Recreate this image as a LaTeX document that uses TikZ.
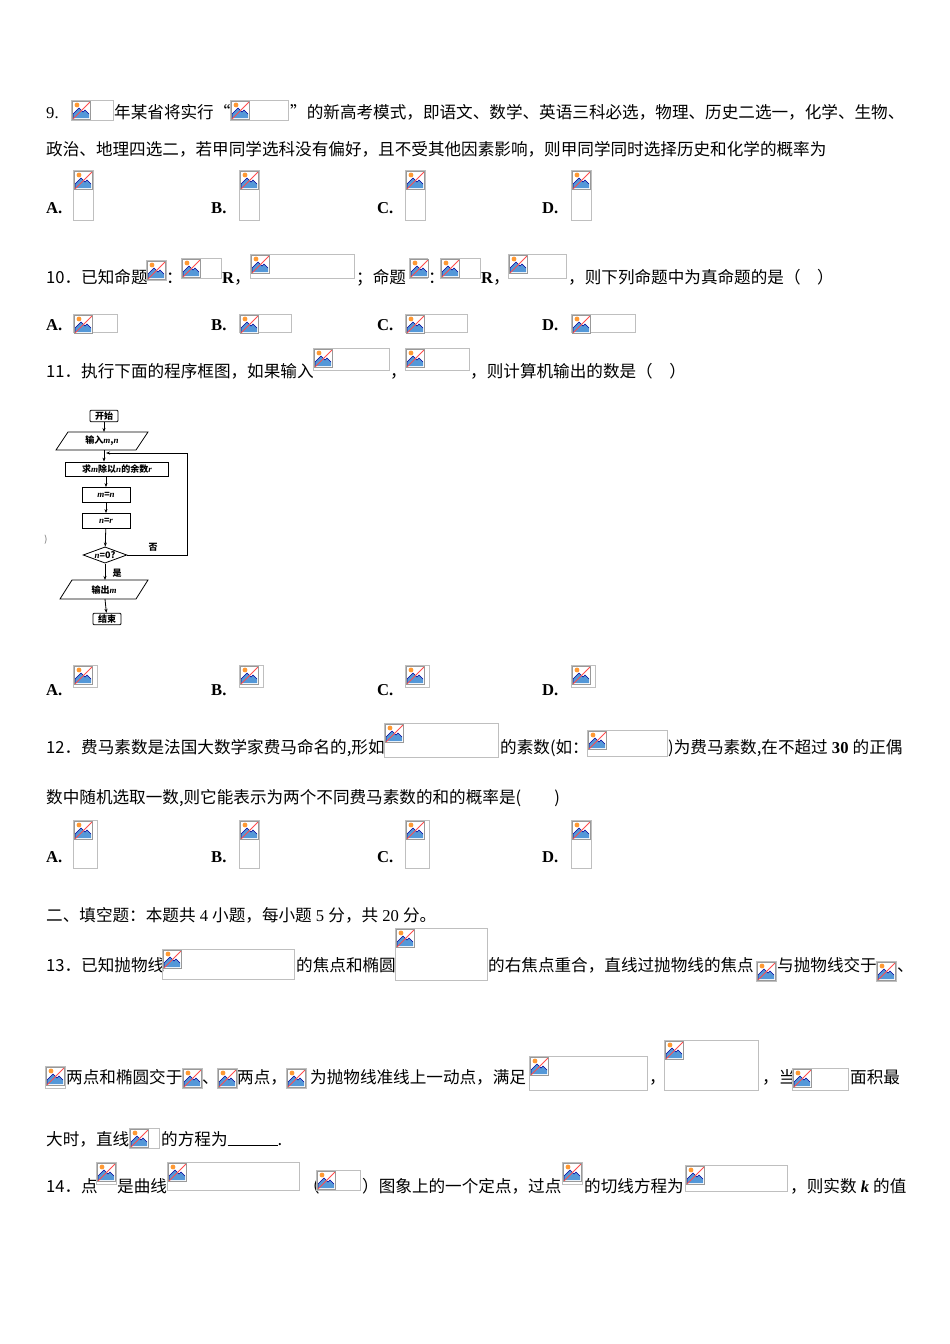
\documentclass[tikz,border=0pt]{standalone}
\usepackage{fontspec}
\setmainfont{Noto Sans CJK SC}
\newfontfamily\lat{Liberation Serif}
\usetikzlibrary{shapes.geometric,arrows.meta}
\newcommand\bimg[4]{%
 \begin{scope}[shift={(#1,#2)}]
  \draw[black!25,line width=0.8pt] (0,0) rectangle (#3,#4);
  \fill[white] (1,1) rectangle (19,19);
  \fill[cyan!60!blue!70] (2,18) -- (2,14) -- (8,8) -- (12,12) -- (14,10) -- (18,14) -- (18,18) -- cycle;
  \draw[blue!60!black,line width=0.6pt] (2,18) -- (2,14) -- (8,8) -- (12,12) -- (14,10) -- (18,14);
  \fill[orange!80] (6,5) circle (2.4);
  \draw[red!70,line width=1pt] (2,19) -- (19,2);
  \draw[black!40,line width=0.6pt] (1,1) rectangle (19,19);
 \end{scope}}
\newcommand\tx[3]{\node[anchor=base west,inner sep=0pt] at (#1,#2) {#3};}
\newcommand\opt[3]{\node[anchor=base west,inner sep=0pt] at (#1,#2) {\lat\bfseries #3};}
\newcommand\vi[1]{{\lat\itshape #1}}
\tikzset{fbox/.style={draw,line width=0.8pt,inner sep=1.5pt,font=\fontsize{9}{10}\selectfont\bfseries},
 flow/.style={-{Stealth[length=4pt]},line width=0.8pt}}
\begin{document}
\begin{tikzpicture}[x=1pt,y=-1pt,every node/.style={font=\fontsize{16.6}{18}\selectfont}]
\useasboundingbox (0,0) rectangle (950,1344);
\fill[white] (0,0) rectangle (950,1344);
% Q9
\tx{46}{118}{\lat 9.} \bimg{71}{100}{42}{20}
\tx{114}{118}{年某省将实行“} \bimg{230}{100}{58}{20}
\tx{290}{118}{”的新高考模式，即语文、数学、英语三科必选，物理、历史二选一，化学、生物、}
\tx{46}{155}{政治、地理四选二，若甲同学选科没有偏好，且不受其他因素影响，则甲同学同时选择历史和化学的概率为}
\opt{46}{213}{A.} \bimg{73}{170}{20}{50}
\opt{211}{213}{B.} \bimg{239}{170}{20}{50}
\opt{377}{213}{C.} \bimg{405}{170}{20}{50}
\opt{542}{213}{D.} \bimg{571}{170}{20}{50}
% Q10
\tx{46}{283}{10．已知命题} \bimg{146}{260}{20}{20}
\tx{166}{283}{：} \bimg{181}{258}{40}{20}
\tx{222}{283}{{\lat\bfseries R}，} \bimg{250}{254}{104}{24}
\tx{356}{283}{；命题} \bimg{409}{258}{18}{20}
\tx{428}{283}{：} \bimg{440}{258}{40}{20}
\tx{481}{283}{{\lat\bfseries R}，} \bimg{508}{254}{58}{24}
\tx{568}{283}{，则下列命题中为真命题的是（　）}
\opt{46}{330}{A.} \bimg{73}{314}{44}{18}
\opt{211}{330}{B.} \bimg{239}{314}{52}{18}
\opt{377}{330}{C.} \bimg{405}{314}{62}{18}
\opt{542}{330}{D.} \bimg{571}{314}{64}{18}
% Q11
\tx{46}{377}{11．执行下面的程序框图，如果输入} \bimg{313}{348}{76}{22}
\tx{390}{377}{，} \bimg{405}{348}{64}{22}
\tx{470}{377}{，则计算机输出的数是（　）}
% flowchart
\node[fbox,minimum width=28pt,minimum height=9pt,rounded corners=1pt] (start) at (104,416) {开始};
\draw[line width=0.8pt] (68,432) -- (148,432) -- (136,450) -- (56,450) -- cycle;
\node[font=\fontsize{9}{10}\selectfont\bfseries] (in) at (102,441) {输入\vi{m},\vi{n}};
\node[fbox,minimum width=103pt,minimum height=14pt] (rem) at (117,469) {求\vi{m}除以\vi{n}的余数\vi{r}};
\node[fbox,minimum width=48pt,minimum height=15pt] (mn) at (106,495) {\vi{m}=\vi{n}};
\node[fbox,minimum width=48pt,minimum height=15pt] (nr) at (106,521) {\vi{n}=\vi{r}};
\node[draw,diamond,aspect=2.7,line width=0.8pt,inner sep=0.5pt,font=\fontsize{9}{10}\selectfont\bfseries] (dec) at (105,555) {\vi{n}=0?};
\draw[line width=0.8pt] (72,580) -- (148,580) -- (136,599) -- (60,599) -- cycle;
\node[font=\fontsize{9}{10}\selectfont\bfseries] (out) at (104,590) {输出\vi{m}};
\node[fbox,minimum width=28pt,minimum height=9pt,rounded corners=1pt] (end) at (107,619) {结束};
\coordinate (inT) at (104,432);
\coordinate (inB) at (104,450);
\coordinate (outt) at (105,580);
\coordinate (outb) at (105,599);
\coordinate (c1) at (187,555);
\coordinate (c2) at (187,453);
\coordinate (c3) at (106,453);
\draw[flow] (start) -- (inT);
\draw[flow] (inB) -- (rem.north -| inB);
\draw[flow] (rem.south -| mn) -- (mn);
\draw[flow] (mn) -- (nr);
\draw[flow] (nr) -- (dec);
\draw[flow] (dec) -- (outt);
\draw[flow] (outb) -- (end);
\draw[flow] (dec.east) -- (c1) -- (c2) -- (c3);
\node[font=\fontsize{9}{10}\selectfont\bfseries] (no) at (153,547) {否};
\node[font=\fontsize{9}{10}\selectfont\bfseries] (yes) at (117,573) {是};
\node[font=\fontsize{9}{10}\selectfont,text=black!60] (par) at (46,540) {)};
\opt{46}{695}{A.} \bimg{73}{665}{24}{22}
\opt{211}{695}{B.} \bimg{239}{665}{24}{22}
\opt{377}{695}{C.} \bimg{405}{665}{24}{22}
\opt{542}{695}{D.} \bimg{571}{665}{24}{22}
% Q12
\tx{46}{753}{12．费马素数是法国大数学家费马命名的,形如} \bimg{384}{723}{114}{34}
\tx{500}{753}{的素数(如：} \bimg{587}{730}{80}{26}
\tx{668}{753}{)为费马素数,在不超过{\lat\bfseries\ 30 }的正偶}
\tx{46}{803}{数中随机选取一数,则它能表示为两个不同费马素数的和的概率是(　　)}
\opt{46}{862}{A.} \bimg{73}{820}{24}{48}
\opt{211}{862}{B.} \bimg{239}{820}{20}{48}
\opt{377}{862}{C.} \bimg{405}{820}{24}{48}
\opt{542}{862}{D.} \bimg{571}{820}{20}{48}
% section
\tx{46}{921}{二、填空题：本题共{\lat\ 4 }小题，每小题{\lat\ 5 }分，共{\lat\ 20 }分。}
% Q13
\tx{46}{971}{13．已知抛物线} \bimg{162}{949}{132}{30}
\tx{296}{971}{的焦点和椭圆} \bimg{395}{928}{92}{52}
\tx{488}{971}{的右焦点重合，直线过抛物线的焦点} \bimg{756}{961}{20}{20}
\tx{777}{971}{与抛物线交于} \bimg{876}{961}{20}{20}
\tx{897}{971}{、}
\bimg{45}{1066}{20}{22}
\tx{66}{1083}{两点和椭圆交于} \bimg{182}{1068}{20}{20}
\tx{202}{1083}{、} \bimg{217}{1068}{20}{20}
\tx{237}{1083}{两点，} \bimg{286}{1068}{20}{20}
\tx{310}{1083}{为抛物线准线上一动点，满足} \bimg{529}{1056}{118}{34}
\tx{649}{1083}{，} \bimg{664}{1040}{94}{50}
\tx{762}{1083}{，当} \bimg{792}{1068}{56}{22}
\tx{850}{1083}{面积最}
\tx{46}{1145}{大时，直线} \bimg{129}{1128}{30}{20}
\tx{161}{1145}{的方程为\rule[-1pt]{50pt}{0.6pt}.}
% Q14
\tx{46}{1192}{14．点} \bimg{96}{1162}{20}{22}
\tx{117}{1192}{是曲线} \bimg{167}{1162}{132}{28}
\tx{303}{1192}{（} \bimg{316}{1170}{44}{20}
\tx{362}{1192}{）图象上的一个定点，过点} \bimg{562}{1162}{20}{22}
\tx{584}{1192}{的切线方程为} \bimg{685}{1165}{102}{26}
\tx{790}{1192}{，则实数{\lat\bfseries\itshape\ k }的值}
\end{tikzpicture}
\end{document}
